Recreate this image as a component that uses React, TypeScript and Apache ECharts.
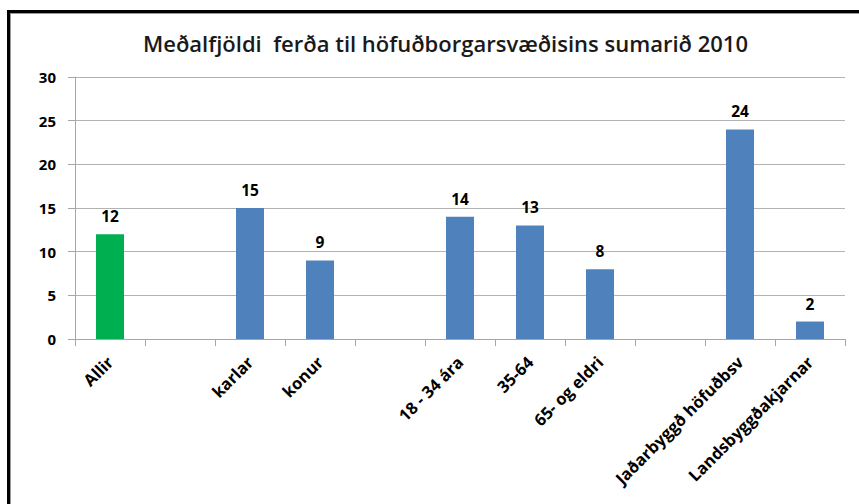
import React, { useEffect, useRef } from "react";
import * as echarts from "echarts";

const titleText = "Meðalfjöldi  ferða til höfuðborgarsvæðisins sumarið 2010";
const categories = [
  "Allir",
  "",
  "karlar",
  "konur",
  " ",
  "18 - 34 ára",
  "35-64",
  "65- og eldri",
  "  ",
  "Jaðarbyggð höfuðbsv",
  "Landsbyggðakjarnar",
];
const values: (number | null)[] = [12, null, 15, 9, null, 14, 13, 8, null, 24, 2];
const barColors = ["#00b050", "#4f81bd", "#4f81bd", "#4f81bd", "#4f81bd", "#4f81bd", "#4f81bd", "#4f81bd", "#4f81bd", "#4f81bd", "#4f81bd"];
const yTicks = { min: 0, max: 30, interval: 5 };

export default function App() {
  const ref = useRef<HTMLDivElement>(null);
  useEffect(() => {
    if (!ref.current) return;
    const chart = echarts.init(ref.current, null, { renderer: "svg" });
    const font = "'Open Sans', 'Noto Sans', sans-serif";
    chart.setOption({
      animation: false,
      backgroundColor: "#ffffff",
      textStyle: { fontFamily: font },
      title: {
        text: titleText,
        left: 138,
        top: 27,
        textStyle: { fontFamily: font, fontSize: 22, fontWeight: 600, color: "#1a1a1a" },
      },
      graphic: [
        { type: "rect", shape: { x: 7, y: 10, width: 852, height: 3 }, style: { fill: "#000" }, silent: true },
        { type: "rect", shape: { x: 7, y: 10, width: 3, height: 494 }, style: { fill: "#000" }, silent: true },
        { type: "rect", shape: { x: 10, y: 13, width: 849, height: 1 }, style: { fill: "#9a9a9a" }, silent: true },
        { type: "rect", shape: { x: 10, y: 13, width: 1, height: 491 }, style: { fill: "#9a9a9a" }, silent: true },
      ],
      grid: { left: 75, right: 14, top: 77, bottom: 165, containLabel: false },
      xAxis: {
        type: "category",
        data: categories,
        axisLine: { lineStyle: { color: "#a6a6a6" } },
        axisTick: { show: true, length: 7, lineStyle: { color: "#a6a6a6" } },
        axisLabel: {
          rotate: 45,
          interval: 0,
          margin: 20,
          fontFamily: font,
          fontSize: 16.5,
          fontWeight: "bold",
          color: "#000",
        },
      },
      yAxis: {
        type: "value",
        min: yTicks.min,
        max: yTicks.max,
        interval: yTicks.interval,
        axisLine: { show: true, lineStyle: { color: "#a6a6a6" } },
        axisTick: { show: true, length: 7, lineStyle: { color: "#a6a6a6" } },
        splitLine: { lineStyle: { color: "#b3b3b3" } },
        axisLabel: {
          margin: 19,
          fontFamily: font,
          fontSize: 15,
          fontWeight: "bold",
          color: "#000",
        },
      },
      series: [
        {
          type: "bar",
          barWidth: 28,
          data: values.map((v, i) => ({ value: v, itemStyle: { color: barColors[i] } })),
          label: {
            show: true,
            position: "top",
            distance: 10,
            fontFamily: font,
            fontSize: 15.5,
            fontWeight: "bold",
            color: "#000",
            formatter: (p: any) => (p.value == null ? "" : String(p.value)),
          },
        },
      ],
    });
    return () => chart.dispose();
  }, []);
  return (
    <div
      ref={ref}
      style={{ position: "fixed", left: 0, top: 0, width: 859, height: 504 }}
    />
  );
}
